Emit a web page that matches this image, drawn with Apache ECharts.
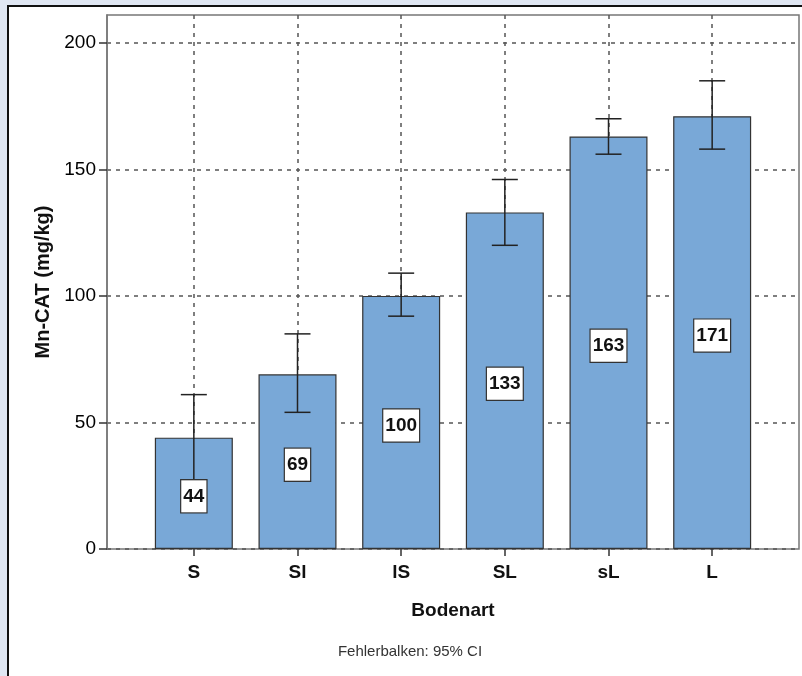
<!DOCTYPE html>
<html>
<head>
<meta charset="utf-8">
<script src="https://cdn.jsdelivr.net/npm/echarts@6/dist/echarts.min.js"></script>
<style>
html,body{margin:0;padding:0;background:#e0e7f3;}
#chart{width:802px;height:676px;}
</style>
</head>
<body>
<div id="chart"></div>
<script>
const categories = ['S', 'Sl', 'lS', 'SL', 'sL', 'L'];
const means = [44, 69, 100, 133, 163, 171];
const ciLow = [27, 54, 92, 120, 156, 158];
const ciHigh = [61, 85, 109, 146, 170, 185];
const yTicks = [0, 50, 100, 150, 200];

const chart = echarts.init(document.getElementById('chart'), null, {renderer: 'canvas'});
const FONT = 'Liberation Sans, Arial, sans-serif';
const YMAX = 211;

const option = {
  backgroundColor: '#e0e7f3',
  animation: false,
  graphic: [
    {type: 'rect', z: -10, shape: {x: 8, y: 6, width: 800, height: 680},
     style: {fill: '#ffffff', stroke: '#111111', lineWidth: 2}},
    {type: 'text', z: 10, x: 410, y: 652,
     style: {text: 'Fehlerbalken: 95% CI', font: '15px ' + FONT, fill: '#333333',
             align: 'center', verticalAlign: 'middle'}}
  ],
  grid: [
    {left: 107, right: 3, top: 15, bottom: 127, show: true, borderColor: '#777777', borderWidth: 1.5, backgroundColor: 'transparent'},
    {left: 142, right: 38, top: 15, bottom: 127},
    {left: 194, right: 90, top: 15, bottom: 127}
  ],
  xAxis: [
    {gridIndex: 0, type: 'value', min: 0, max: 1, show: false},
    {gridIndex: 1, type: 'category', data: categories,
     axisLine: {show: false},
     axisTick: {show: true, alignWithLabel: true, length: 7, lineStyle: {color: '#333', width: 1.5}},
     axisLabel: {margin: 14, color: '#111', fontSize: 19, fontWeight: 'bold', fontFamily: FONT},
     splitLine: {show: false},
     name: 'Bodenart', nameLocation: 'middle', nameGap: 52,
     nameTextStyle: {color: '#111', fontSize: 19, fontWeight: 'bold', fontFamily: FONT}},
    {gridIndex: 2, type: 'value', min: 0, max: 5, interval: 1,
     axisLine: {show: false}, axisTick: {show: false}, axisLabel: {show: false},
     splitLine: {show: true, lineStyle: {color: '#555555', width: 1.5, type: [4, 5]}}}
  ],
  yAxis: [
    {gridIndex: 0, type: 'value', min: 0, max: YMAX, interval: 50,
     axisLine: {show: true, lineStyle: {color: '#777777', width: 1.5}},
     axisTick: {show: true, length: 8, lineStyle: {color: '#333', width: 1.5},
                customValues: yTicks},
     axisLabel: {margin: 11, color: '#000', fontSize: 19, fontFamily: FONT, customValues: yTicks},
     splitLine: {show: true, lineStyle: {color: '#555555', width: 1.5, type: [4, 5]}},
     name: 'Mn-CAT (mg/kg)', nameLocation: 'middle', nameGap: 53,
     nameTextStyle: {color: '#111', fontSize: 20, fontWeight: 'bold', fontFamily: FONT}},
    {gridIndex: 1, type: 'value', min: 0, max: YMAX, show: false, splitLine: {show: false}},
    {gridIndex: 2, type: 'value', min: 0, max: YMAX, show: false, splitLine: {show: false}}
  ],
  series: [
    {type: 'bar', xAxisIndex: 1, yAxisIndex: 1, data: means, barWidth: 78, z: 2,
     itemStyle: {color: '#79a8d7', borderColor: '#333333', borderWidth: 1.2}},
    {type: 'custom', xAxisIndex: 1, yAxisIndex: 1, z: 3,
     data: categories.map((c, i) => [i, ciLow[i], ciHigh[i]]),
     renderItem: function (params, api) {
       const x = api.value(0);
       const lo = api.coord([x, api.value(1)]);
       const hi = api.coord([x, api.value(2)]);
       const w = 13;
       const st = {stroke: '#222222', lineWidth: 1.5};
       return {type: 'group', children: [
         {type: 'line', shape: {x1: lo[0], y1: lo[1], x2: hi[0], y2: hi[1]}, style: st},
         {type: 'line', shape: {x1: lo[0] - w, y1: lo[1], x2: lo[0] + w, y2: lo[1]}, style: st},
         {type: 'line', shape: {x1: hi[0] - w, y1: hi[1], x2: hi[0] + w, y2: hi[1]}, style: st}
       ]};
     }},
    {type: 'custom', xAxisIndex: 1, yAxisIndex: 1, z: 4,
     data: categories.map((c, i) => [i, means[i]]),
     renderItem: function (params, api) {
       const v = api.value(1);
       const p = api.coord([api.value(0), v / 2]);
       return {type: 'text', x: p[0], y: p[1] + 3,
         style: {text: String(v), font: 'bold 19px ' + FONT, fill: '#111',
                 align: 'center', verticalAlign: 'middle',
                 backgroundColor: '#ffffff', borderColor: '#333333', borderWidth: 1.2,
                 padding: [7, 2, 6, 2]}};
     }}
  ]
};
chart.setOption(option);
</script>
</body>
</html>
